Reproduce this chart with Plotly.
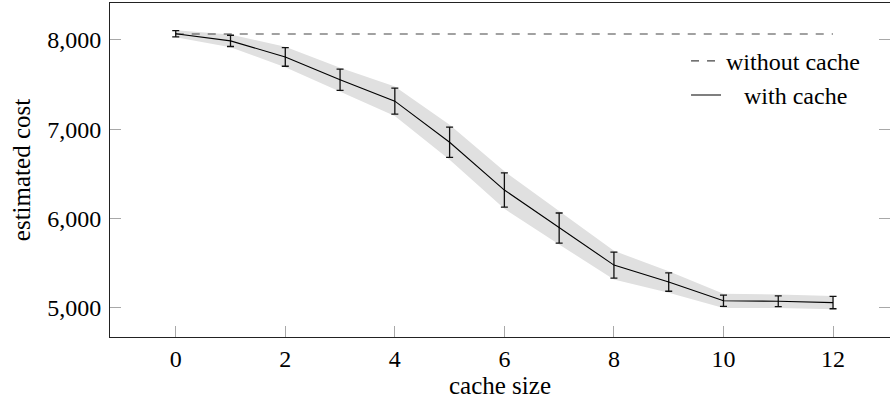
import plotly.graph_objects as go

# cache sizes and estimated costs
cache_size = [0, 1, 2, 3, 4, 5, 6, 7, 8, 9, 10, 11, 12]
cost_with_cache = [8070, 7990, 7810, 7555, 7315, 6855, 6320, 5895, 5480, 5290, 5080, 5075, 5060]
cost_err = [35, 63, 104, 119, 145, 170, 192, 168, 145, 103, 63, 60, 69]
band_err = [40, 70, 115, 135, 165, 195, 210, 185, 160, 120, 80, 75, 75]
cost_without_cache = [8067] * len(cache_size)

font = "Liberation Serif"

band_hi = [c + e for c, e in zip(cost_with_cache, band_err)]
band_lo = [c - e for c, e in zip(cost_with_cache, band_err)]

fig = go.Figure()

# shaded spread around the cached cost
fig.add_trace(go.Scatter(x=cache_size, y=band_hi, mode="lines", line=dict(width=0),
                         showlegend=False, hoverinfo="skip"))
fig.add_trace(go.Scatter(x=cache_size, y=band_lo, mode="lines", line=dict(width=0),
                         fill="tonexty", fillcolor="#e0e0e0",
                         showlegend=False, hoverinfo="skip"))

fig.add_trace(go.Scatter(x=cache_size, y=cost_without_cache, mode="lines",
                         name="without cache",
                         line=dict(color="#444444", width=1.2, dash="8px,8px")))

fig.add_trace(go.Scatter(x=cache_size, y=cost_with_cache, mode="lines",
                         name="   with cache",
                         line=dict(color="black", width=1.1),
                         error_y=dict(type="data", array=cost_err, visible=True,
                                      color="#111111", thickness=1.3, width=3.5)))

axis_common = dict(showline=True, linecolor="#222222", linewidth=1,
                   ticks="inside", ticklen=11, tickcolor="#a8a8a8", tickwidth=1,
                   showgrid=False, zeroline=False, automargin=False,
                   tickfont=dict(family=font, size=24, color="black"))

fig.update_xaxes(range=[-1.2, 13.04], tickvals=[0, 2, 4, 6, 8, 10, 12],
                 ticklabelstandoff=0, mirror=True,
                 title=dict(text="cache size", standoff=5,
                            font=dict(family=font, size=25, color="black")),
                 **axis_common)
# right edge of the frame falls off the page, only its ticks show
fig.update_yaxes(range=[4675, 8414], tickvals=[5000, 6000, 7000, 8000],
                 tickformat=",d", ticklabelstandoff=3, mirror="ticks",
                 title=dict(text="estimated cost", standoff=9,
                            font=dict(family=font, size=25, color="black")),
                 **axis_common)

fig.update_layout(
    width=890, height=407,
    margin=dict(l=110, r=0, t=3, b=70),
    plot_bgcolor="white", paper_bgcolor="white",
    font=dict(family=font, size=24, color="black"),
    legend=dict(x=0.968, y=0.893, xanchor="right", yanchor="top",
                bgcolor="rgba(0,0,0,0)", borderwidth=0, traceorder="normal",
                font=dict(family=font, size=24, color="black"),
                tracegroupgap=0),
)

fig.write_html("out.html", config={"displayModeBar": False},
               post_script="document.body.style.margin='0';"
                           "document.body.style.overflow='hidden';")
